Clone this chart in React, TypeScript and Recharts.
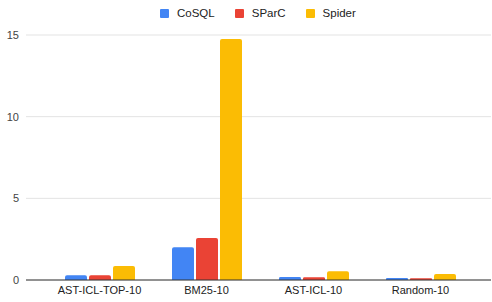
import { Bar, BarChart, CartesianGrid, XAxis, YAxis } from "recharts";

const categories = ["AST-ICL-TOP-10", "BM25-10", "AST-ICL-10", "Random-10"];
const cosql = [0.29, 2.0, 0.18, 0.12];
const sparc = [0.29, 2.57, 0.17, 0.1];
const spider = [0.86, 14.76, 0.53, 0.37];
const yTicks = [0, 5, 10, 15];

const series = [
  { key: "cosql", name: "CoSQL", color: "#4285F4" },
  { key: "sparc", name: "SParC", color: "#EA4335" },
  { key: "spider", name: "Spider", color: "#FBBC04" },
];

const data = categories.map((c, i) => ({
  name: c,
  cosql: cosql[i],
  sparc: sparc[i],
  spider: spider[i],
}));

const font = "'Liberation Sans', Arial, sans-serif";

export default function App() {
  return (
    <div style={{ position: "absolute", left: 0, top: 0, width: 492, height: 302, fontFamily: font }}>
      <div
        style={{
          position: "absolute",
          top: 6,
          left: 160,
          display: "flex",
          alignItems: "center",
          fontSize: 11.5,
          color: "#222",
          lineHeight: "14px",
        }}
      >
        {series.map((s) => (
          <div key={s.key} style={{ display: "flex", alignItems: "center", marginRight: 20 }}>
            <span style={{ width: 9, height: 9, background: s.color, display: "inline-block", marginRight: 8, borderRadius: 1 }} />
            <span>{s.name}</span>
          </div>
        ))}
      </div>
      <BarChart
        width={492}
        height={302}
        data={data}
        margin={{ top: 35, right: 1, left: 0, bottom: 0 }}
        barSize={22}
        barGap={2}
      >
        <CartesianGrid stroke="#e3e3e3" vertical={false} />
        <XAxis
          dataKey="name"
          height={22}
          tickLine={false}
          tickSize={0}
          tickMargin={6}
          axisLine={{ stroke: "#333" }}
          padding={{ left: 20, right: 17 }}
          tick={{ fontSize: 11, fill: "#222", fontFamily: font }}
          interval={0}
        />
        <YAxis
          width={26}
          domain={[0, 15]}
          ticks={yTicks}
          tickLine={false}
          axisLine={false}
          tickSize={0}
          tickMargin={7}
          tick={{ fontSize: 11, fill: "#444", fontFamily: font }}
        />
        {series.map((s) => (
          <Bar
            key={s.key}
            dataKey={s.key}
            name={s.name}
            fill={s.color}
            radius={[2, 2, 0, 0]}
            isAnimationActive={false}
          />
        ))}
      </BarChart>
    </div>
  );
}
